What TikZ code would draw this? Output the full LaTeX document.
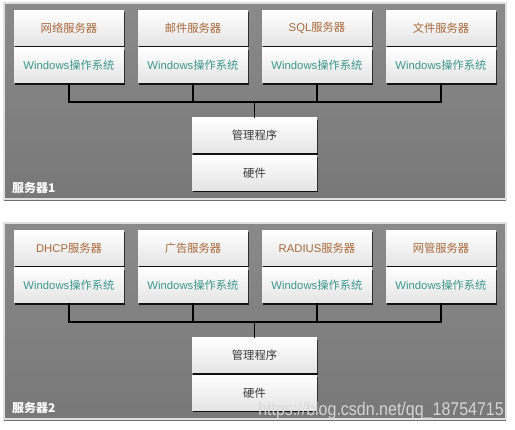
\documentclass[tikz,border=0pt]{standalone}
\usepackage{fontspec}
\setmainfont{Liberation Sans}
\newfontfamily\cjk{Noto Sans CJK SC}
\newcommand{\zh}[1]{{\cjk #1}}
\usetikzlibrary{shadows}
\definecolor{pgtop}{HTML}{8A8A8A}
\definecolor{pgbot}{HTML}{787878}
\definecolor{boxbot}{HTML}{E4E4E4}
\definecolor{srvtxt}{HTML}{A8683A}
\definecolor{ostxt}{HTML}{3C968C}
\definecolor{mgtxt}{HTML}{3A3A3A}
\tikzset{
  panelbox/.style={draw=white!88!black, line width=2pt, top color=pgtop, bottom color=pgbot,
    drop shadow={shadow xshift=0pt, shadow yshift=-2pt, opacity=.8, fill=black!70}},
  cell/.style={minimum width=110pt, minimum height=35pt, inner sep=0pt, top color=white, bottom color=boxbot,
    font=\fontsize{11.3}{13}\selectfont,
    drop shadow={shadow xshift=0.5pt, shadow yshift=-1.6pt, opacity=.85, fill=black}},
  mcell/.style={cell, minimum width=125pt, text=mgtxt},
  srv/.style={cell, text=srvtxt},
  os/.style={cell, text=ostxt},
  link/.style={line width=1.7pt, black},
  linkhi/.style={line width=1.2pt, white!75!black},
  plabel/.style={text=white, font=\cjk\bfseries\fontsize{12}{14}\selectfont, anchor=west, inner sep=0pt}
}
\begin{document}
\begin{tikzpicture}[x=1pt, y=-1pt]
\useasboundingbox (0,0) rectangle (515,430);
\fill[white] (0,0) rectangle (515,430);
\foreach \yo/\ta/\tb/\tc/\td/\lab in {0/\zh{网络服务器}/\zh{邮件服务器}/SQL\zh{服务器}/\zh{文件服务器}/服务器1, 220/DHCP\zh{服务器}/\zh{广告服务器}/RADIUS\zh{服务器}/\zh{网管服务器}/服务器2}{
  \begin{scope}[shift={(0,\yo)}]
    \path[panelbox] (4,3) rectangle (506,199);
    \node[srv] (t1) at (69,28) {\ta};
    \node[srv] (t2) at (193,28) {\tb};
    \node[srv] (t3) at (317,28) {\tc};
    \node[srv] (t4) at (441,28) {\td};
    \foreach \i in {1,...,4}{
      \node[os] (o\i) at ({69+124*(\i-1)},65.5) {Windows\zh{操作系统}};
    }
    \coordinate (h) at (254.5,102);
    \node[mcell] (m1) at (254.5,135.5) {\zh{管理程序}};
    \node[mcell] (m2) at (254.5,173) {\zh{硬件}};
    \begin{scope}[shift={(1.3,1.3)}]
      \foreach \i in {1,...,4}{ \draw[linkhi] (o\i.south) -- (o\i.south |- h); }
      \draw[linkhi] (o1.south |- h) -- (o4.south |- h);
      \draw[linkhi] (h) -- (m1.north);
    \end{scope}
    \foreach \i in {1,...,4}{ \draw[link] (o\i.south) -- (o\i.south |- h); }
    \draw[link, line cap=rect] (o1.south |- h) -- (o4.south |- h);
    \draw[link] (h) -- (m1.north);
    \node[plabel] (lab) at (12,188) {\lab};
  \end{scope}
}
\node[text=white!85!black, opacity=.95, font=\fontsize{16}{18}\selectfont, yscale=1.15, anchor=base east, inner sep=0pt] (wm) at (504,416) {https://blog.csdn.net/qq\_18754715};
\end{tikzpicture}
\end{document}
